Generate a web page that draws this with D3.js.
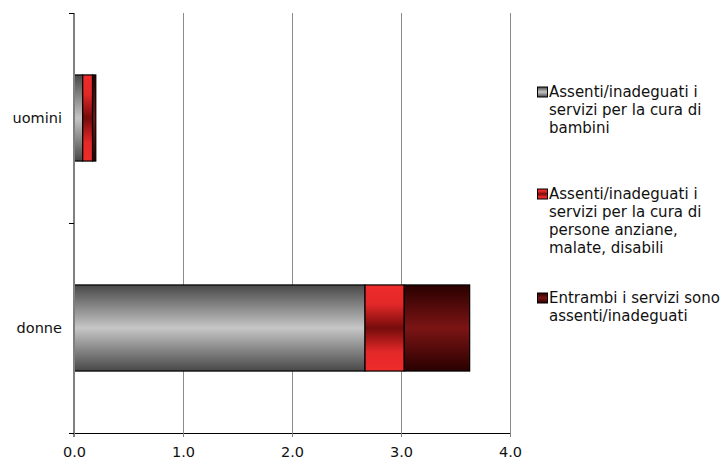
<!DOCTYPE html>
<html>
<head>
<meta charset="utf-8">
<script src="https://cdn.jsdelivr.net/npm/d3@7"></script>
<style>
html,body{margin:0;padding:0;background:#fff;}
svg{display:block;font-family:"DejaVu Sans",Verdana,sans-serif;}
</style>
</head>
<body>
<svg id="chart" width="722" height="463"></svg>
<script>
const categories = ["uomini", "donne"];
const seriesKeys = ["bambini", "anziani", "entrambi"];
const seriesLabels = [
  ["Assenti/inadeguati i", "servizi per la cura di", "bambini"],
  ["Assenti/inadeguati i", "servizi per la cura di", "persone anziane,", "malate, disabili"],
  ["Entrambi i servizi sono", "assenti/inadeguati"]
];
const bambini  = [0.08, 2.67];
const anziani  = [0.09, 0.36];
const entrambi = [0.03, 0.60];
const xTicks = [0, 1, 2, 3, 4];

const data = categories.map((c, i) => ({cat: c, bambini: bambini[i], anziani: anziani[i], entrambi: entrambi[i]}));

const svg = d3.select("#chart");
const x = d3.scaleLinear().domain([0, 4]).range([74, 510]);
const y = d3.scaleBand().domain(categories).range([13, 433]).paddingInner(0.59).paddingOuter(0.295);

const grads = {
  bambini:  [["0%", "#484848"], ["50%", "#c6c6c6"], ["100%", "#484848"]],
  anziani:  [["0%", "#ee2b2b"], ["22%", "#e42828"], ["50%", "#760c0c"], ["78%", "#e42828"], ["100%", "#ee2b2b"]],
  entrambi: [["0%", "#2a0000"], ["50%", "#7c1414"], ["100%", "#2a0000"]]
};
const defs = svg.append("defs");
seriesKeys.forEach(k => {
  const g = defs.append("linearGradient").attr("id", "g-" + k)
    .attr("x1", 0).attr("y1", 0).attr("x2", 0).attr("y2", 1);
  grads[k].forEach(s => g.append("stop").attr("offset", s[0]).attr("stop-color", s[1]));
});

// gridlines
svg.append("g").selectAll("line").data(xTicks.slice(1)).join("line")
  .attr("x1", d => x(d)).attr("x2", d => x(d))
  .attr("y1", 13).attr("y2", 437)
  .attr("stroke", "#8c8c8c").attr("stroke-width", 1).attr("shape-rendering", "crispEdges");

// bars
const stack = d3.stack().keys(seriesKeys)(data);
svg.append("g").selectAll("g").data(stack).join("g")
  .attr("fill", d => "url(#g-" + d.key + ")")
  .selectAll("rect").data(d => d).join("rect")
  .attr("x", d => x(d[0]))
  .attr("width", d => x(d[1]) - x(d[0]))
  .attr("y", d => y(d.data.cat))
  .attr("height", y.bandwidth())
  .attr("stroke", "#000").attr("stroke-width", 1.2);

// y axis line
svg.append("line").attr("x1", x(0)).attr("x2", x(0)).attr("y1", 13).attr("y2", 437)
  .attr("stroke", "#808080").attr("stroke-width", 2);
// y ticks at band boundaries
const yBounds = [13, 223, 433];
svg.append("g").selectAll("line").data(yBounds).join("line")
  .attr("x1", 69).attr("x2", 74).attr("y1", d => d).attr("y2", d => d)
  .attr("stroke", "#000").attr("stroke-width", 1).attr("shape-rendering", "crispEdges");

// x axis
const xAxis = d3.axisBottom(x).tickValues(xTicks).tickFormat(d3.format(".1f")).tickSize(4).tickSizeOuter(0);
const gx = svg.append("g").attr("transform", "translate(0,433)").call(xAxis);
gx.select(".domain").attr("d", "M69,0.5H510").attr("stroke", "#000").attr("stroke-width", 1);
gx.selectAll(".tick line").attr("stroke", "#808080");
gx.selectAll(".tick text").attr("font-size", "14.5px").attr("fill", "#111").attr("dy", "1.15em")
  .attr("font-family", "DejaVu Sans, Verdana, sans-serif");

// category labels
svg.append("g").selectAll("text").data(categories).join("text")
  .attr("x", 62).attr("y", d => y(d) + y.bandwidth() / 2)
  .attr("text-anchor", "end").attr("dominant-baseline", "central")
  .attr("font-size", "14.5px").attr("fill", "#111").text(d => d);

// legend
const legendY = [92, 194, 298];
const lg = svg.append("g").selectAll("g").data(seriesKeys).join("g")
  .attr("transform", (d, i) => `translate(537,${legendY[i]})`);
lg.append("rect").attr("x", 0.5).attr("y", -5).attr("width", 10).attr("height", 10)
  .attr("fill", d => "url(#g-" + d + ")").attr("stroke", "#000").attr("stroke-width", 1);
lg.each(function(d, i) {
  const t = d3.select(this).append("text").attr("x", 12).attr("y", 0)
    .attr("font-size", "15px").attr("fill", "#111");
  seriesLabels[i].forEach((line, j) => {
    t.append("tspan").attr("x", 12).attr("y", j * 18).attr("dy", "0.36em").text(line);
  });
});
</script>
</body>
</html>
